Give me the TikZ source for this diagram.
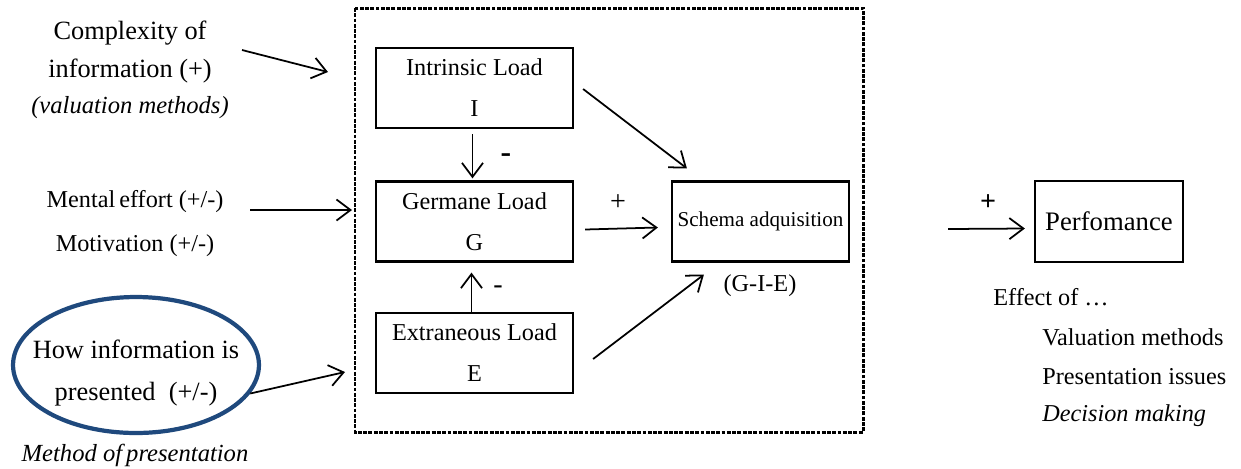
\documentclass[tikz,border=0pt]{standalone}
\usepackage{fontspec}
\setmainfont{Liberation Serif}
\usetikzlibrary{arrows.meta,shapes.geometric,calc}
\definecolor{ellblue}{RGB}{31,73,125}
\begin{document}
\begin{tikzpicture}[x=0.02cm,y=-0.02cm,
  txt/.style={inner sep=0pt,align=center,font=\fontsize{13.8}{22}\selectfont},
  bigtxt/.style={inner sep=0pt,align=center,font=\fontsize{15}{21.6}\selectfont},
  loadbox/.style={draw,line width=1.3pt,minimum width=197*0.569pt,minimum height=80*0.569pt,inner sep=0pt,align=center,font=\fontsize{13.8}{23.3}\selectfont},
  arr/.style={line width=1pt,-{Straight Barb[length=8pt,width=12pt,line width=1pt]}},
  sign/.style={inner sep=0pt,font=\fontsize{16}{18}\selectfont}]
\useasboundingbox (0,0) rectangle (1241,468);
% dashed frame
\draw[line width=1.7pt,dash pattern=on 2.2pt off 0.8pt] (355,8) rectangle (863,432);
% left texts
\node[bigtxt] (cx) at (130,70) {Complexity of\\information (+)\\[-1pt]{\itshape\fontsize{14}{16}\selectfont (valuation methods)}};
\node[txt] (me) at (135,202) {Mental\,effort (+/-)};
\node[txt] (mo) at (135,246) {Motivation (+/-)};
\node[draw=ellblue,line width=2.4pt,ellipse,minimum width=246*0.569pt,minimum height=136*0.569pt,inner sep=0pt] (ell) at (136,365) {};
\node[bigtxt,font=\fontsize{15}{23.5}\selectfont] (hw) at (136,373) {How information is\\presented\ \ (+/-)};
\node[txt,font=\itshape\fontsize{14}{16}\selectfont] (mp) at (135,455) {Method of\,presentation};
% left arrows
\coordinate (c1s) at (242,50); \coordinate (c1e) at (328,72);
\coordinate (c2s) at (250,210); \coordinate (c2e) at (352,210);
\coordinate (c3e) at (345,372);
\draw[arr] (c1s) -- (c1e);
\draw[arr] (c2s) -- (c2e);
\draw[arr] (ell.-14) -- (c3e);
% load boxes
\node[loadbox] (I) at (474.5,88) {Intrinsic Load\\I};
\node[loadbox] (G) at (474.5,221.5) {Germane Load\\G};
\node[loadbox] (E) at (474.5,353) {Extraneous Load\\E};
\node[loadbox,minimum width=177*0.569pt,font=\fontsize{12}{14}\selectfont] (S) at (760.5,221.5) {Schema adquisition};
\node[txt] (gie) at (760,286) {(G-I-E)};
% inner arrows
\draw[arr] ($(I.south)+(-2,5)$) -- ($(G.north)+(-2,-2)$);
\draw[arr] ($(E.north)+(-3,0)$) -- ($(G.south)+(-3,10)$);
\draw[arr] ($(G.east)+(11,8)$) -- ($(S.west)+(-13,6)$);
\draw[arr] ($(I.east)+(9,1)$) -- ($(S.north west)+(16,-12)$);
\draw[arr] ($(E.east)+(19,6)$) -- ($(S.south west)+(33,12)$);
\node[sign,font=\bfseries\fontsize{18}{20}\selectfont] (m1) at (506,158) {-};
\node[sign] (m2) at (498,290) {-};
\node[sign] (p1) at (618,203) {+};
% performance
\node[draw,line width=1.3pt,minimum width=148*0.569pt,minimum height=81*0.569pt,inner sep=0pt,font=\fontsize{15.2}{17}\selectfont] (P) at (1109,221.5) {Perfomance};
\coordinate (c4s) at (948,229);
\draw[arr] (c4s) -- ($(P.west)+(-9,7)$);
\node[sign,font=\bfseries\fontsize{16}{18}\selectfont] (p2) at (988,203) {+};
\node[txt,anchor=west] (ef) at (993,297) {Effect of \dots};
\node[txt,anchor=west] (vm) at (1042,337) {Valuation methods};
\node[txt,anchor=west] (pi) at (1042,377) {Presentation issues};
\node[txt,anchor=west,font=\itshape\fontsize{13.8}{16}\selectfont] (dm) at (1042,416) {Decision making};
\end{tikzpicture}
\end{document}
